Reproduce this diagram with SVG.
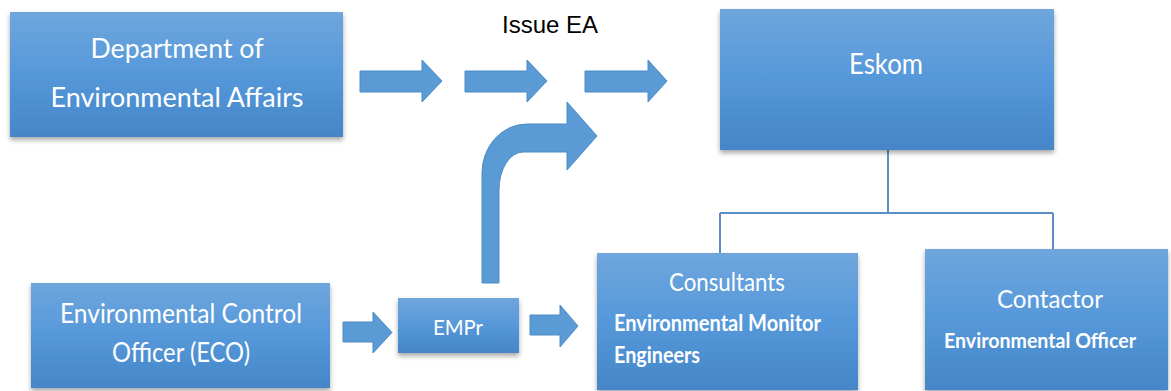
<svg xmlns="http://www.w3.org/2000/svg" width="1171" height="391" viewBox="0 0 1171 391">
<defs>
<linearGradient id="g" x1="0" y1="0" x2="0" y2="1">
<stop offset="0" stop-color="#6fa6dd"/>
<stop offset="0.5" stop-color="#5598da"/>
<stop offset="1" stop-color="#4586c8"/>
</linearGradient>
<filter id="sh" x="-10%" y="-10%" width="120%" height="130%">
<feDropShadow dx="0" dy="3" stdDeviation="2.5" flood-color="#000" flood-opacity="0.35"/>
</filter>
<style>
.box{fill:url(#g);filter:url(#sh);}
.t{font-family:Lato,"Open Sans","Liberation Sans",sans-serif;fill:#ffffff;text-anchor:middle;}
.s{font-family:Lato,"Open Sans","Liberation Sans",sans-serif;fill:#ffffff;font-weight:bold;}
.arr{fill:#5b9bd5;stroke:#4d8bc6;stroke-width:1;}
.ln{fill:none;stroke:#5b8fc8;stroke-width:2;}
</style>
</defs>
<rect width="1171" height="391" fill="#ffffff"/>

<g id="connectors">
<path class="ln" d="M888 150 V213 M720 213 H1053 M720 213 V253 M1053 213 V249"/>
<path class="arr" d="M360 71 H422 V60 L442 81 L422 102 V92 H360 Z"/>
<path class="arr" d="M465 71 H527 V60 L547 81 L527 102 V92 H465 Z"/>
<path class="arr" d="M585 71 H648 V60 L667 81 L648 102 V92 H585 Z"/>
<path class="arr" d="M343 322 H373 V312 L392 332.5 L373 353 V342 H343 Z"/>
<path class="arr" d="M530 315 H560 V305 L578 326 L560 347 V335 H530 Z"/>
<path class="arr" d="M482 283 V173 A45 49 0 0 1 527 124 H567 V102 L597 136 L567 170 V152 H523 A24 38 0 0 0 499 190 V283 Z"/>
</g>

<text x="502" y="33" font-family="'Liberation Sans',Arial,sans-serif" font-size="24" fill="#000000">Issue EA</text>

<g id="dea">
<rect class="box" x="10" y="12" width="333" height="125"/>
<text class="t" x="177" y="58" font-size="26" textLength="173" lengthAdjust="spacingAndGlyphs">Department of</text>
<text class="t" x="177" y="107" font-size="26" textLength="253" lengthAdjust="spacingAndGlyphs">Environmental Affairs</text>
</g>

<g id="eskom">
<rect class="box" x="720" y="9" width="334" height="141"/>
<text class="t" x="886" y="74" font-size="29" textLength="74" lengthAdjust="spacingAndGlyphs">Eskom</text>
</g>

<g id="eco">
<rect class="box" x="31" y="283" width="299" height="105"/>
<text class="t" x="181" y="323" font-size="27" textLength="242" lengthAdjust="spacingAndGlyphs">Environmental Control</text>
<text class="t" x="181" y="362" font-size="27" textLength="138" lengthAdjust="spacingAndGlyphs">Officer (ECO)</text>
</g>

<g id="empr">
<rect class="box" x="398" y="298" width="121" height="55"/>
<text class="t" x="458" y="335" font-size="21" textLength="50" lengthAdjust="spacingAndGlyphs">EMPr</text>
</g>

<g id="consultants">
<rect class="box" x="597" y="253" width="261" height="137"/>
<text class="t" x="727" y="291" font-size="25" textLength="116" lengthAdjust="spacingAndGlyphs">Consultants</text>
<text class="s" x="614" y="331" font-size="22" textLength="207" lengthAdjust="spacingAndGlyphs">Environmental Monitor</text>
<text class="s" x="614" y="363" font-size="22" textLength="86" lengthAdjust="spacingAndGlyphs">Engineers</text>
</g>

<g id="contactor">
<rect class="box" x="925" y="249" width="243" height="141"/>
<text class="t" x="1050" y="308" font-size="25" textLength="106" lengthAdjust="spacingAndGlyphs">Contactor</text>
<text class="s" x="944" y="348" font-size="21" textLength="192" lengthAdjust="spacingAndGlyphs">Environmental Officer</text>
</g>
</svg>
